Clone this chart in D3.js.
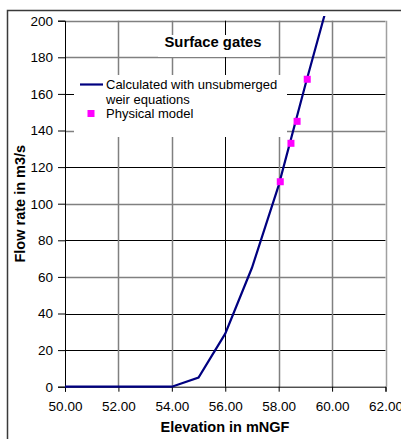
<!DOCTYPE html>
<html lang="en">
<head>
<meta charset="UTF-8">
<title>Surface gates</title>
<script src="https://d3js.org/d3.v7.min.js"></script>
<style>
  body { margin: 0; background: #ffffff; }
  svg text { font-family: "Liberation Sans", Arial, sans-serif; fill: #000; }
</style>
</head>
<body>
<div id="chart"></div>
<script>
// calculated curve (unsubmerged weir equations)
var elevCalc = [50, 54, 55, 56, 57, 58, 59, 60];
var flowCalc = [0, 0, 5, 29, 65, 110, 165, 218];

// physical model points
var elevModel = [58.06, 58.46, 58.69, 59.07];
var flowModel = [112, 133, 145, 168];

var xTicks = [50, 52, 54, 56, 58, 60, 62];
var yTicks = [0, 20, 40, 60, 80, 100, 120, 140, 160, 180, 200];

var W = 401, H = 439;
var svg = d3.select("#chart").append("svg")
    .attr("width", W)
    .attr("height", H);

var x = d3.scaleLinear().domain([50, 62]).range([65, 385.5]);
var y = d3.scaleLinear().domain([0, 200]).range([386.7, 20.7]);

// outer chart border (runs off the picture right and bottom)
svg.append("rect")
    .attr("x", 7.5).attr("y", 10.5)
    .attr("width", 420).attr("height", 460)
    .attr("fill", "none")
    .attr("stroke", "#3a3a3a")
    .attr("stroke-width", 1.5);

// grid
var darkY = [160, 120, 80, 40, 20];
svg.selectAll(".hgrid")
    .data(yTicks.filter(function(d) { return d > 0; }))
    .enter().append("line")
        .attr("x1", x(50)).attr("x2", x(62))
        .attr("y1", function(d) { return Math.round(y(d)) + 0.5; })
        .attr("y2", function(d) { return Math.round(y(d)) + 0.5; })
        .attr("stroke", function(d) { return darkY.indexOf(d) >= 0 ? "#000" : "#808080"; })
        .attr("stroke-width", function(d) { return darkY.indexOf(d) >= 0 ? 1 : 1.5; });

svg.selectAll(".vgrid")
    .data(xTicks.filter(function(d) { return d > 50; }))
    .enter().append("line")
        .attr("y1", y(0)).attr("y2", y(200))
        .attr("x1", function(d) { return Math.round(x(d)) + 0.5; })
        .attr("x2", function(d) { return Math.round(x(d)) + 0.5; })
        .attr("stroke", function(d) { return d == 56 ? "#000" : (d == 62 ? "#a0a0a0" : "#808080"); })
        .attr("stroke-width", function(d) { return d == 56 ? 1 : 1.5; });

// title box and legend box mask the grid
svg.append("rect")
    .attr("x", 158).attr("y", 35).attr("width", 112).attr("height", 22)
    .attr("fill", "#fff");
svg.append("text")
    .attr("x", 213).attr("y", 46.5)
    .attr("text-anchor", "middle")
    .style("font-size", "14.8px")
    .style("font-weight", "bold")
    .text("Surface gates");

svg.append("rect")
    .attr("x", 74).attr("y", 75).attr("width", 213).attr("height", 62)
    .attr("fill", "#fff");

// axes
var yAxis = svg.append("g")
    .attr("transform", "translate(" + x(50) + ",0)")
    .call(d3.axisLeft(y).tickValues(yTicks).tickSize(7).tickPadding(5));
var xAxis = svg.append("g")
    .attr("transform", "translate(0," + y(0) + ")")
    .call(d3.axisBottom(x).tickValues(xTicks).tickSize(5).tickPadding(10)
        .tickFormat(d3.format(".2f")));
[yAxis, xAxis].forEach(function(a) {
    a.select(".domain").attr("stroke", "#000");
    a.selectAll(".tick line").attr("stroke", "#000");
    a.selectAll("text")
        .style("font-family", "'Liberation Sans', Arial, sans-serif")
        .style("font-size", "13.5px");
});

// clip for the line (it runs a little above the top)
svg.append("clipPath").attr("id", "plotclip")
    .append("rect")
        .attr("x", x(50)).attr("y", 16)
        .attr("width", x(62) - x(50)).attr("height", y(0) - 16 + 2);

var calc = elevCalc.map(function(d, i) { return [d, flowCalc[i]]; });
svg.append("path")
    .datum(calc)
    .attr("clip-path", "url(#plotclip)")
    .attr("fill", "none")
    .attr("stroke", "#000080")
    .attr("stroke-width", 2.2)
    .attr("d", d3.line()
        .x(function(d) { return x(d[0]); })
        .y(function(d) { return y(d[1]); }));

var model = elevModel.map(function(d, i) { return [d, flowModel[i]]; });
svg.selectAll(".mk")
    .data(model)
    .enter().append("rect")
        .attr("x", function(d) { return x(d[0]) - 3.5; })
        .attr("y", function(d) { return y(d[1]) - 3.5; })
        .attr("width", 7).attr("height", 7)
        .attr("fill", "#ff00ff");

// legend
svg.append("line")
    .attr("x1", 80).attr("x2", 103).attr("y1", 84.5).attr("y2", 84.5)
    .attr("stroke", "#000080").attr("stroke-width", 2.2);
svg.append("text").attr("x", 106).attr("y", 89)
    .style("font-size", "13px").text("Calculated with unsubmerged");
svg.append("text").attr("x", 106).attr("y", 103.5)
    .style("font-size", "13px").text("weir equations");
svg.append("rect")
    .attr("x", 87.5).attr("y", 110).attr("width", 7).attr("height", 7)
    .attr("fill", "#ff00ff");
svg.append("text").attr("x", 106).attr("y", 118)
    .style("font-size", "13px").text("Physical model");

// axis titles
svg.append("text")
    .attr("x", 225).attr("y", 432)
    .attr("text-anchor", "middle")
    .style("font-size", "14.5px")
    .style("font-weight", "bold")
    .text("Elevation in mNGF");
svg.append("text")
    .attr("transform", "translate(25," + ((y(0) + y(200)) / 2) + ") rotate(-90)")
    .attr("text-anchor", "middle")
    .style("font-size", "14.5px")
    .style("font-weight", "bold")
    .text("Flow rate in m3/s");
</script>
</body>
</html>
